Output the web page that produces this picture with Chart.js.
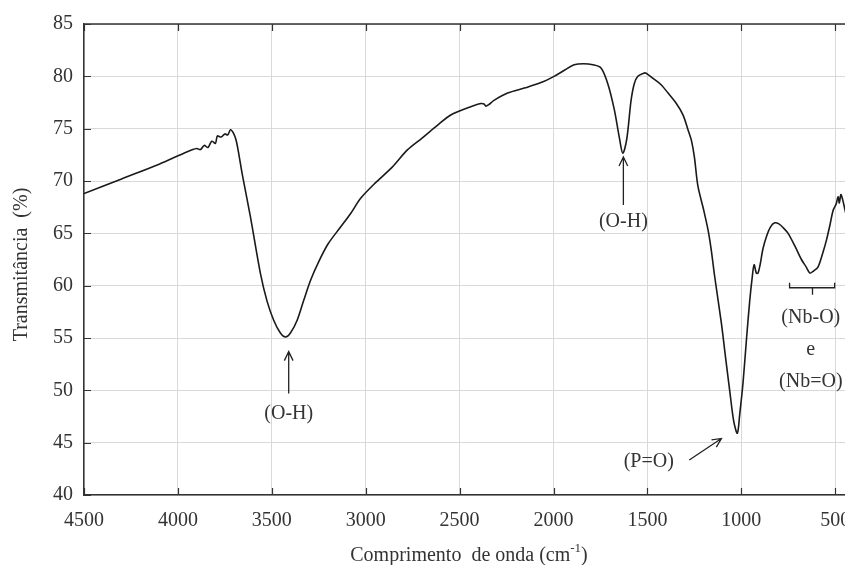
<!DOCTYPE html>
<html>
<head>
<meta charset="utf-8">
<script src="https://cdn.jsdelivr.net/npm/chart.js@4"></script>
<style>
  html, body { margin: 0; padding: 0; background: #fff; overflow: hidden; }
  #wrap { width: 880px; height: 565px; }
</style>
</head>
<body>
<div id="wrap"><canvas id="ftirChart" width="880" height="565"></canvas></div>
<script>
// wavenumber (cm-1) and transmittance (%)
const wavenumbers = [
  4500, 4300, 4100, 3950, 3900, 3880, 3860, 3840, 3820, 3800, 3790, 3770, 3750, 3735, 3720, 3705,
  3690, 3675, 3658, 3614, 3561, 3525, 3490, 3455, 3427, 3400, 3365, 3330, 3294, 3250, 3200, 3134,
  3080, 3027, 2950, 2860, 2778, 2700, 2620, 2547, 2470, 2387, 2370, 2360, 2345, 2317, 2245, 2150,
  2067, 1997, 1940, 1890, 1840, 1790, 1747, 1711, 1676, 1650, 1631, 1610, 1587, 1570, 1551, 1520,
  1507, 1470, 1427, 1390, 1346, 1310, 1284, 1266, 1250, 1231, 1200, 1177, 1160, 1142, 1106, 1085,
  1062, 1040, 1021, 1008, 991, 972, 955, 942, 932, 920, 911, 900, 885, 866, 845, 822,
  800, 775, 751, 715, 680, 655, 635, 615, 591, 565, 546, 528, 511, 495, 485, 478,
  470, 460, 450, 440
];
const transmittance = [
  68.8, 70.2, 71.6, 72.8, 73.1, 73.0, 73.4, 73.2, 73.8, 73.6, 74.3, 74.2, 74.5, 74.4, 74.9, 74.6,
  73.9, 72.5, 70.7, 66.6, 61.2, 58.5, 56.7, 55.5, 55.1, 55.5, 56.7, 58.6, 60.5, 62.3, 64.0, 65.6,
  66.9, 68.35, 69.8, 71.3, 72.97, 74.1, 75.3, 76.3, 76.9, 77.4, 77.35, 77.15, 77.3, 77.7, 78.4, 78.9,
  79.4, 80.0, 80.6, 81.1, 81.2, 81.1, 80.8, 79.3, 76.8, 74.2, 72.65, 74.0, 77.7, 79.3, 80.0, 80.3,
  80.3, 79.8, 79.2, 78.4, 77.4, 76.3, 74.9, 73.9, 72.3, 69.5, 67.2, 65.3, 63.4, 60.9, 56.4, 53.3,
  50.0, 47.0, 45.9, 47.8, 50.7, 55.0, 58.6, 60.8, 62.0, 61.2, 61.2, 62.0, 63.5, 64.7, 65.6, 66.0,
  65.9, 65.5, 65.0, 63.8, 62.5, 61.8, 61.2, 61.4, 61.8, 63.2, 64.4, 65.8, 67.2, 67.8, 68.5, 67.9,
  68.7, 68.2, 67.4, 66.6
];
const xTickValues = [4500, 4000, 3500, 3000, 2500, 2000, 1500, 1000, 500];

// band labels, placed in data units
const bandLabels = [
  { text: '(O-H)', x: 3410, y: 47.8 },
  { text: '(O-H)', x: 1628, y: 66.1 },
  { text: '(P=O)', x: 1493, y: 43.2 },
  { text: '(Nb-O)', x: 630, y: 56.9 },
  { text: 'e', x: 630, y: 53.9 },
  { text: '(Nb=O)', x: 630, y: 50.8 }
];
const arrows = [
  { x1: 3410, y1: 49.7, x2: 3410, y2: 53.7 },
  { x1: 1628, y1: 67.7, x2: 1628, y2: 72.3 },
  { x1: 1277, y1: 43.35, x2: 1106, y2: 45.4 }
];
const bracket = { from: 743, to: 503, mid: 621, y: 59.8 };

const FONT = "'Liberation Serif', 'Times New Roman', serif";
const TEXT = '#333';

const decorPlugin = {
  id: 'decor',
  afterDatasetsDraw(chart) {
    const { ctx, chartArea: a, scales } = chart;
    const xs = scales.x, ys = scales.y;
    ctx.save();
    ctx.strokeStyle = '#333';
    ctx.lineWidth = 1.5;
    // frame top and right
    ctx.beginPath();
    ctx.moveTo(a.left, a.top); ctx.lineTo(a.right, a.top); ctx.lineTo(a.right, a.bottom);
    ctx.stroke();
    // inner tick marks
    ctx.lineWidth = 1.2;
    ctx.beginPath();
    xTickValues.forEach(v => {
      const px = Math.round(xs.getPixelForValue(v)) + 0.5;
      ctx.moveTo(px, a.bottom); ctx.lineTo(px, a.bottom - 7);
      ctx.moveTo(px, a.top); ctx.lineTo(px, a.top + 7);
    });
    ys.ticks.forEach(t => {
      const py = Math.round(ys.getPixelForValue(t.value)) + 0.5;
      ctx.moveTo(a.left, py); ctx.lineTo(a.left + 7, py);
      ctx.moveTo(a.right, py); ctx.lineTo(a.right - 7, py);
    });
    ctx.stroke();

    // band labels
    ctx.fillStyle = TEXT;
    ctx.font = '20px ' + FONT;
    ctx.textAlign = 'center';
    ctx.textBaseline = 'middle';
    bandLabels.forEach(l => {
      ctx.fillText(l.text, xs.getPixelForValue(l.x), ys.getPixelForValue(l.y));
    });

    // arrows with open heads
    ctx.strokeStyle = '#222';
    ctx.lineWidth = 1.3;
    arrows.forEach(ar => {
      const x1 = xs.getPixelForValue(ar.x1), y1 = ys.getPixelForValue(ar.y1);
      const x2 = xs.getPixelForValue(ar.x2), y2 = ys.getPixelForValue(ar.y2);
      const ang = Math.atan2(y2 - y1, x2 - x1);
      const h = 10, spread = 0.45;
      ctx.beginPath();
      ctx.moveTo(x1, y1); ctx.lineTo(x2, y2);
      ctx.moveTo(x2 - h * Math.cos(ang - spread), y2 - h * Math.sin(ang - spread));
      ctx.lineTo(x2, y2);
      ctx.lineTo(x2 - h * Math.cos(ang + spread), y2 - h * Math.sin(ang + spread));
      ctx.stroke();
    });

    // bracket under the Nb band
    const bx1 = xs.getPixelForValue(bracket.from), bx2 = xs.getPixelForValue(bracket.to);
    const bm = xs.getPixelForValue(bracket.mid), by = ys.getPixelForValue(bracket.y);
    ctx.beginPath();
    ctx.moveTo(bx1, by - 5); ctx.lineTo(bx1, by); ctx.lineTo(bx2, by); ctx.lineTo(bx2, by - 5);
    ctx.moveTo(bm, by); ctx.lineTo(bm, by + 7);
    ctx.stroke();

    // axis titles
    ctx.fillStyle = TEXT;
    ctx.font = '20px ' + FONT;
    ctx.save();
    ctx.translate(22, (a.top + a.bottom) / 2 + 5);
    ctx.rotate(-Math.PI / 2);
    ctx.fillText('Transmitância  (%)', 0, 0);
    ctx.restore();

    const main = 'Comprimento  de onda (cm';
    const sup = '-1';
    const tail = ')';
    const supFont = '13px ' + FONT;
    ctx.font = '20px ' + FONT;
    const wMain = ctx.measureText(main).width;
    const wTail = ctx.measureText(tail).width;
    ctx.font = supFont;
    const wSup = ctx.measureText(sup).width;
    let tx = (a.left + a.right) / 2 - (wMain + wSup + wTail) / 2;
    const ty = 556;
    ctx.textAlign = 'left';
    ctx.font = '20px ' + FONT;
    ctx.fillText(main, tx, ty);
    tx += wMain;
    ctx.font = supFont;
    ctx.fillText(sup, tx, ty - 7);
    tx += wSup;
    ctx.font = '20px ' + FONT;
    ctx.fillText(tail, tx, ty);
    ctx.restore();
  }
};

new Chart(document.getElementById('ftirChart'), {
  type: 'line',
  data: {
    datasets: [{
      data: wavenumbers.map((w, i) => ({ x: w, y: transmittance[i] })),
      borderColor: '#1a1a1a',
      borderWidth: 1.6,
      pointRadius: 0,
      tension: 0.3,
      fill: false
    }]
  },
  options: {
    responsive: false,
    animation: false,
    devicePixelRatio: 1,
    layout: { padding: { top: 24, right: 26, left: 0, bottom: 0 } },
    plugins: { legend: { display: false }, tooltip: { enabled: false } },
    scales: {
      x: {
        type: 'linear',
        reverse: true,
        min: 400,
        max: 4500,
        afterBuildTicks: (s) => { s.ticks = xTickValues.map(v => ({ value: v })); },
        afterFit: (s) => { s.height = 70; },
        grid: { color: '#d9d9d9', lineWidth: 1, drawTicks: false },
        border: { display: true, color: '#333', width: 1.5 },
        ticks: {
          color: TEXT, padding: 14, maxRotation: 0,
          font: { family: FONT, size: 20 },
          callback: (v) => String(v)
        }
      },
      y: {
        min: 40,
        max: 85,
        ticks: { stepSize: 5, color: TEXT, padding: 11, font: { family: FONT, size: 20 } },
        afterFit: (s) => { s.width = 84; },
        grid: { color: '#d9d9d9', lineWidth: 1, drawTicks: false },
        border: { display: true, color: '#333', width: 1.5 }
      }
    }
  },
  plugins: [decorPlugin]
});
</script>
</body>
</html>
